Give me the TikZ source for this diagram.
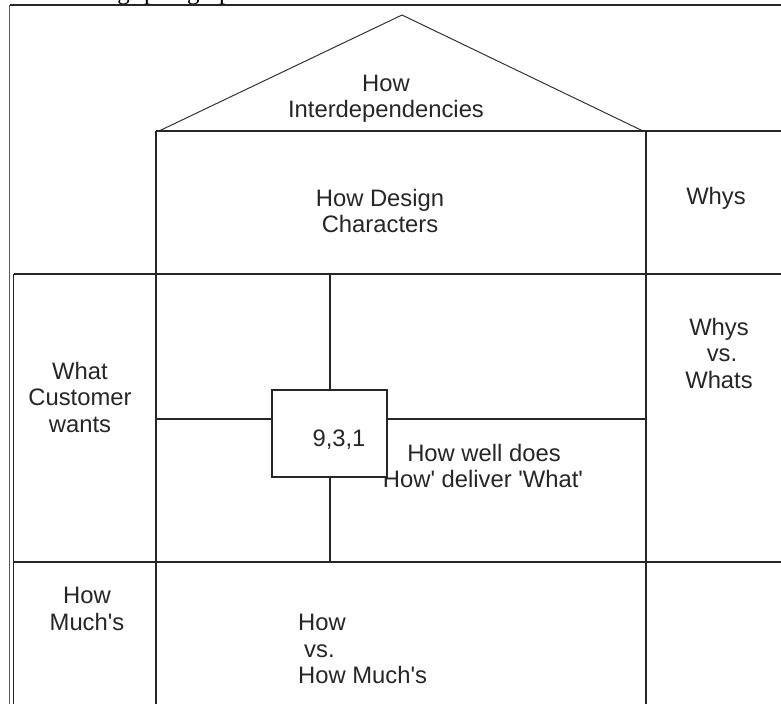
\documentclass[tikz,border=0pt]{standalone}
\usepackage{fontspec}
\setmainfont{Liberation Sans}
\newfontfamily\bodyserif{Liberation Serif}
\begin{document}
\begin{tikzpicture}[x=1pt,y=-1pt,
  rule/.style={draw=black!85,line width=1.3pt},
  roofline/.style={draw=black!80,line width=1pt},
  lbl/.style={inner sep=0pt,align=center,font=\fontsize{23.8}{26.5}\selectfont,text=black!85},
  bodytext/.style={inner sep=0pt,font=\bodyserif\fontsize{25}{30}\selectfont,text=black},
  cellbox/.style={draw=black!85,line width=1.3pt,fill=white}]
\useasboundingbox (0,0) rectangle (781,704);
\fill[white] (0,0) rectangle (781,704);

% running text of the page above the figure (only its descenders fall inside)
\node[bodytext,anchor=base east] (prevw) at (130,-0.5) {following};
\node[bodytext,anchor=base west] (prevp) at (144,-0.5) {paragraph};

% outer frame
\draw[draw=black!65,line width=1.8pt] (9.5,5) -- (9.5,704);
\draw[rule] (9.5,5) -- (781,5);

% roof
\coordinate (roofL) at (159,131);
\coordinate (apex) at (402,15);
\coordinate (roofR) at (643,131);
\draw[roofline] (roofL) -- (apex) -- (roofR);

% grid of rooms
\draw[rule] (156,131) -- (781,131);
\draw[rule] (156,131) -- (156,704);
\draw[rule] (646,131) -- (646,704);
\draw[rule] (13.5,274) -- (781,274);
\draw[rule] (13.5,274) -- (13.5,704);
\draw[rule] (13.5,562) -- (781,562);
\draw[rule] (330,274) -- (330,562);
\draw[rule] (156,419) -- (646,419);

% labels
\node[lbl] (inter) at (386,99) {How\\Interdependencies};
\node[lbl] (design) at (380,211) {How Design\\Characters};
\node[lbl] (whys) at (716,198) {Whys};
\node[lbl] (whyswhats) at (719,353) {Whys\\\hspace*{6pt}vs.\\Whats};
\node[lbl] (what) at (80,397) {What\\Customer\\wants};
\node[lbl] (howwell) at (483,466) {\hspace*{2pt}How well does\\How\textquotesingle{} deliver \textquotesingle What\textquotesingle};
\node[lbl] (howmuch) at (87,609) {How\\Much\textquotesingle s};
\node[lbl,align=left,anchor=north west] (howvs) at (298,614) {How\\\hspace*{6pt}vs.\\How Much\textquotesingle s};

% relationship box, drawn over the label it overlaps
\node[cellbox,minimum width=115pt,minimum height=87pt,inner sep=0pt] (score) at (329.5,433.5) {};
\node[lbl] (scoretext) at (339,440) {9,3,1};
\end{tikzpicture}
\end{document}
